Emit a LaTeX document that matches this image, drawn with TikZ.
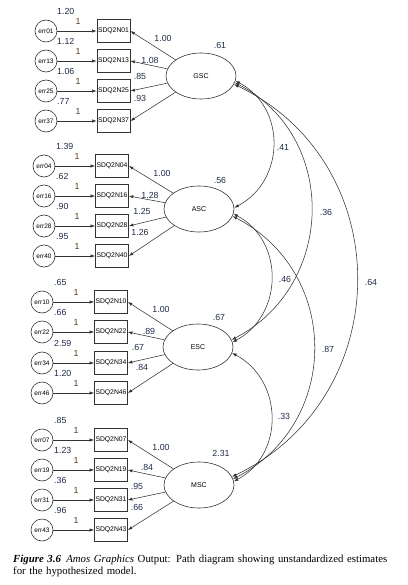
\documentclass[tikz,border=0pt]{standalone}
\usepackage{fontspec}
\setmainfont{Liberation Sans}
\newfontfamily\capfont{Liberation Serif}
\usetikzlibrary{arrows.meta,shapes.geometric}
\definecolor{numc}{HTML}{1E2A48}
\definecolor{onec}{HTML}{553A18}
\definecolor{linec}{HTML}{333333}
\begin{document}
\begin{tikzpicture}[x=1pt,y=-1pt,
  obs/.style={draw=linec, line width=0.7pt, minimum width=33pt, minimum height=23pt, inner sep=0pt, font=\fontsize{6.8}{7}\selectfont},
  errc/.style={circle, draw=linec, line width=0.6pt, minimum size=22pt, inner sep=0pt, font=\fontsize{6.5}{7}\selectfont},
  lat/.style={ellipse, draw=linec, line width=0.6pt, minimum width=70pt, minimum height=46pt, inner sep=0pt, font=\fontsize{7}{8}\selectfont},
  num/.style={font=\fontsize{8.8}{9}\selectfont, text=numc, inner sep=0pt},
  one/.style={font=\fontsize{8.8}{9}\selectfont, text=onec, inner sep=0pt},
  arr/.style={draw=linec, line width=0.55pt, -{Latex[length=4.5pt,width=3.2pt]}},
  cov/.style={draw=linec, line width=0.55pt, {Latex[length=4.5pt,width=3.2pt]}-{Latex[length=4.5pt,width=3.2pt]}},
]
\useasboundingbox (0,0) rectangle (407,585);

% GSC block
\foreach \id/\y/\v in {01/31/1.20,13/61/1.12,25/91/1.06,37/121/.77}{
  \node[errc] (e\id) at (46,\y) {err\id};
  \node[obs] (n\id) at (113.5,\y) {SDQ2N\id};
  \draw[arr] (e\id) -- (n\id);
  \node[num, anchor=west] at (57,\y-20) {\v};
  \node[one] at (78,\y-10) {1};
}
\node[lat] (gsc) at (201,76) {GSC};
\foreach \id in {01,13,25,37} \draw[arr] (gsc) -- (n\id.east);
\node[num] at (220,45) {.61};
\node[num] at (163,38) {1.00};
\node[num] at (150,60) {1.08};
\node[num] at (140,76) {.85};
\node[num] at (140,98) {.93};

% ASC block
\foreach \id/\y/\v in {04/166/1.39,16/196/.62,28/226/.90,40/256/.95}{
  \node[errc] (e\id) at (44,\y) {err\id};
  \node[obs] (n\id) at (112,\y) {SDQ2N\id};
  \draw[arr] (e\id) -- (n\id);
  \node[num, anchor=west] at (56,\y-20) {\v};
  \node[one] at (77,\y-10) {1};
}
\node[lat] (asc) at (199,209) {ASC};
\foreach \id in {04,16,28,40} \draw[arr] (asc) -- (n\id.east);
\node[num] at (220,180) {.56};
\node[num] at (162,173) {1.00};
\node[num] at (150,195) {1.28};
\node[num] at (142,211) {1.25};
\node[num] at (140,232) {1.26};

% ESC block
\foreach \id/\y/\v in {10/302/.65,22/332/.66,34/363/2.59,46/393/1.20}{
  \node[errc] (e\id) at (42,\y) {err\id};
  \node[obs] (n\id) at (111,\y) {SDQ2N\id};
  \draw[arr] (e\id) -- (n\id);
  \node[num, anchor=west] at (54,\y-20) {\v};
  \node[one] at (76,\y-10) {1};
}
\node[lat] (esc) at (198,347) {ESC};
\foreach \id in {10,22,34,46} \draw[arr] (esc) -- (n\id.east);
\node[num] at (219,317) {.67};
\node[num] at (161,309) {1.00};
\node[num] at (149,331) {.89};
\node[num] at (138,347) {.67};
\node[num] at (142,367) {.84};

% MSC block
\foreach \id/\y/\v in {07/440/.85,19/470/1.23,31/500/.36,43/530/.96}{
  \node[errc] (e\id) at (42,\y) {err\id};
  \node[obs] (n\id) at (111,\y) {SDQ2N\id};
  \draw[arr] (e\id) -- (n\id);
  \node[num, anchor=west] at (54,\y-20) {\v};
  \node[one] at (76,\y-10) {1};
}
\node[lat] (msc) at (199,485) {MSC};
\foreach \id in {07,19,31,43} \draw[arr] (msc) -- (n\id.east);
\node[num] at (221,453) {2.31};
\node[num] at (161,447) {1.00};
\node[num] at (147,467) {.84};
\node[num] at (137,486) {.95};
\node[num] at (137,507) {.66};

% covariances
\draw[cov] (gsc.-8) .. controls +(51,27) and +(51,-27) .. (asc.2);
\draw[cov] (gsc.-11) .. controls +(104,54) and +(104,-54) .. (esc.12);
\draw[cov] (gsc.-14) .. controls +(165,79) and +(165,-79) .. (msc.14);
\draw[cov] (asc.-8) .. controls +(51,27) and +(51,-27) .. (esc.8);
\draw[cov] (asc.-12) .. controls +(108,56) and +(108,-56) .. (msc.10);
\draw[cov] (esc.-10) .. controls +(51,27) and +(51,-27) .. (msc.6);
\node[num] at (283,147) {.41};
\node[num] at (326,212) {.36};
\node[num] at (371,282) {.64};
\node[num] at (285,279) {.46};
\node[num] at (328,349) {.87};
\node[num] at (284,416) {.33};

% caption
\node[anchor=north west, inner sep=0pt, text width=382pt, align=left,
  font=\capfont\fontsize{10.8}{12.2}\selectfont] (cap) at (13,555)
  {\textbf{\textit{Figure 3.6}}\hspace{0.5em}\textit{Amos Graphics} Output: Path diagram showing unstandardized estimates for the hypothesized model.};
\end{tikzpicture}
\end{document}
